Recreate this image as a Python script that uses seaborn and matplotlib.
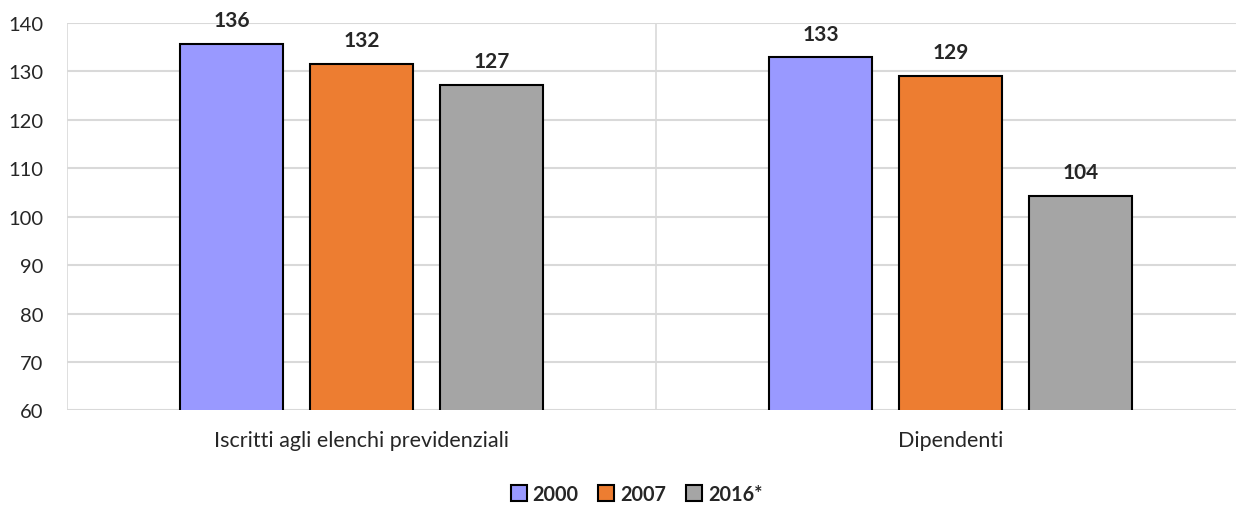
import numpy as np
import pandas as pd
import matplotlib
matplotlib.use("Agg")
import matplotlib.pyplot as plt
import seaborn as sns

# Data
categorie = ["Iscritti agli elenchi previdenziali", "Dipendenti"]
anni = ["2000", "2007", "2016*"]
valori_2000 = [135.7, 132.9]
valori_2007 = [131.6, 129.1]
valori_2016 = [127.2, 104.3]
colori = ["#9999FF", "#ED7D31", "#A5A5A5"]

df = pd.DataFrame({
    "categoria": categorie * 3,
    "anno": [anni[0]] * 2 + [anni[1]] * 2 + [anni[2]] * 2,
    "valore": valori_2000 + valori_2007 + valori_2016,
})

sns.set_style("white")
plt.rcParams["font.family"] = ["Lato", "DejaVu Sans"]

fig = plt.figure(figsize=(12.36, 5.06), dpi=100)
ax = fig.add_axes([0.0542, 0.1868, 0.9531, 0.766])

sns.barplot(data=df, x="categoria", y="valore", hue="anno", palette=colori,
            saturation=1, edgecolor="black", linewidth=1.5, width=0.662, gap=0.21,
            errorbar=None, ax=ax, zorder=3)

ax.set_ylim(60, 140)
ax.set_xlim(-0.5, 1.5)
ax.set_yticks(np.arange(60, 141, 10))
ax.set_xlabel("")
ax.set_ylabel("")

# gridlines, Excel style
for y in np.arange(60, 141, 10):
    ax.axhline(y, color="#D9D9D9", linewidth=1.5, zorder=1)
for x in [-0.5, 0.5, 1.5]:
    ax.axvline(x, color="#D9D9D9", linewidth=1.2, zorder=1)
for s in ax.spines.values():
    s.set_visible(False)

ax.tick_params(axis="y", length=0, pad=17, labelsize=14.5)
ax.tick_params(axis="x", length=0, pad=14, labelsize=15.5)

# value labels above bars
for cont in ax.containers:
    for bar in cont:
        h = bar.get_height()
        ax.annotate(f"{h:.0f}", (bar.get_x() + bar.get_width() / 2, h),
                    xytext=(0, 17), textcoords="offset points",
                    ha="center", va="center", fontsize=15, fontweight="bold")

ax.legend_.remove()
handles = [plt.Rectangle((0, 0), 1, 1, facecolor=c, edgecolor="black", linewidth=1.5) for c in colori]
fig.legend(handles, anni, loc="center", bbox_to_anchor=(0.515, 0.022), ncol=3,
           frameon=False, handlelength=0.8, handleheight=0.8, handletextpad=0.3,
           columnspacing=1.0, prop={"weight": "bold", "size": 14.3})

fig.savefig("out.png", dpi=100)
